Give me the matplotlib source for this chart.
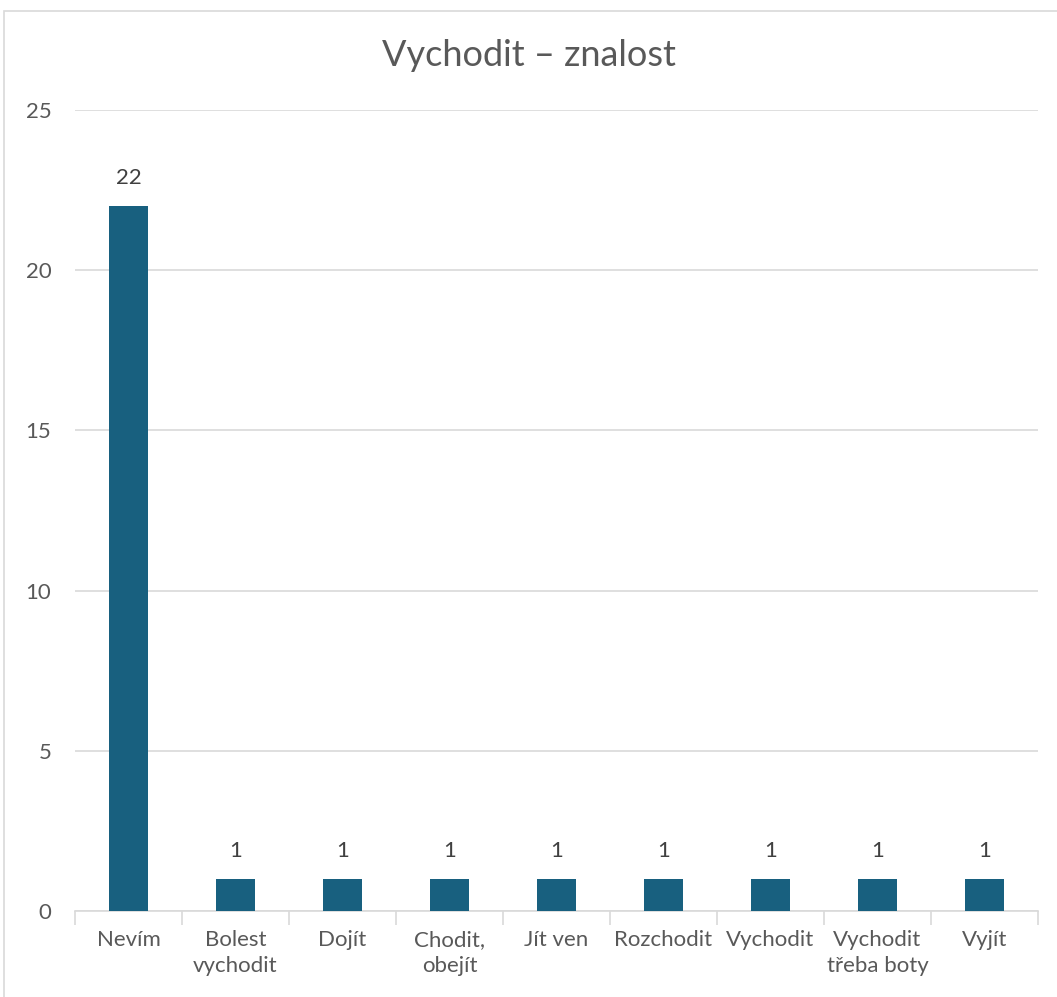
import matplotlib
matplotlib.use("Agg")
import matplotlib.pyplot as plt
from matplotlib.patches import Rectangle
import numpy as np

plt.rcParams["font.family"] = ["Lato", "DejaVu Sans"]

categories = ["Nevím", "Bolest\nvychodit", "Dojít", "Chodit,\nobejít", "Jít ven",
              "Rozchodit", "Vychodit", "Vychodit\ntřeba boty", "Vyjít"]
counts = [22, 1, 1, 1, 1, 1, 1, 1, 1]

bar_color = "#18607f"
text_color = "#595959"
grid_color = "#d9d9d9"

fig = plt.figure(figsize=(10.57, 9.97), dpi=100)
ax = fig.add_axes([0.071, 0.0863, 0.911, 0.8034])

# chart frame
fig.patches.append(Rectangle((4 / 1057, -0.05), 1.1, 1 - 11 / 997 + 0.05,
                             transform=fig.transFigure, fill=False,
                             edgecolor="#d9d9d9", linewidth=1.2))

x = np.arange(len(categories))
ax.bar(x, counts, width=0.37, color=bar_color, zorder=3)
for xi, v in zip(x, counts):
    ax.text(xi, v + 0.55, str(v), ha="center", va="bottom",
            fontsize=16, color="#404040")

ax.set_xlim(-0.5, len(categories) - 0.5)
ax.set_ylim(0, 25)
ax.set_yticks(range(0, 26, 5))
ax.yaxis.grid(True, color=grid_color, linewidth=1.2, zorder=0)
ax.tick_params(axis="y", length=0, pad=17, labelsize=16, labelcolor=text_color)

ax.set_xticks(x)
ax.set_xticklabels(categories, linespacing=1.35)
ax.tick_params(axis="x", length=0, pad=14, labelsize=16, labelcolor=text_color)
ax.set_xticks(np.arange(-0.5, len(categories)), minor=True)
ax.tick_params(axis="x", which="minor", length=10, color=grid_color, width=1.2)

for side in ["top", "right", "left"]:
    ax.spines[side].set_visible(False)
ax.spines["bottom"].set_color(grid_color)
ax.spines["bottom"].set_linewidth(1.2)

fig.text(0.5, 1 - 55 / 997, "Vychodit – znalost",
         ha="center", va="center", fontsize=26, color=text_color)

fig.savefig("out.png", dpi=100)
